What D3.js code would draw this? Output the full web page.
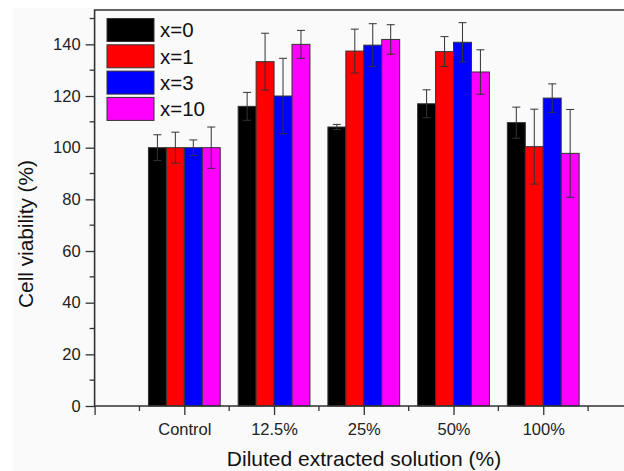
<!DOCTYPE html>
<html>
<head>
<meta charset="utf-8">
<script src="https://cdn.jsdelivr.net/npm/d3@7/dist/d3.min.js"></script>
<style>
  html, body { margin: 0; padding: 0; background: #fff; }
  svg { display: block; font-family: Arial, "Liberation Sans", sans-serif; }
</style>
</head>
<body>
<svg id="chart" width="624" height="471"></svg>
<script>
const categories = ["Control", "12.5%", "25%", "50%", "100%"];
const seriesNames = ["x=0", "x=1", "x=3", "x=10"];
const seriesColors = ["#000000", "#ff0000", "#0000ff", "#ff00ff"];
const valuesX0 = [100, 116, 108, 117, 109.7];
const valuesX1 = [100, 133.3, 137.4, 137.2, 100.4];
const valuesX3 = [100, 120, 139.7, 140.8, 119.2];
const valuesX10 = [100, 140, 141.9, 129.3, 97.8];
const errX0 = [5, 5.4, 1, 5.4, 6];
const errX1 = [6, 11, 8.5, 5.8, 14.5];
const errX3 = [3, 14.6, 8.3, 7.6, 5.5];
const errX10 = [8, 5.4, 5.7, 8.6, 17];
const yTicks = [0, 20, 40, 60, 80, 100, 120, 140];
const yMinorTicks = [10, 30, 50, 70, 90, 110, 130, 150];

(function () {
const seriesValues = [valuesX0, valuesX1, valuesX3, valuesX10];
const seriesErrors = [errX0, errX1, errX3, errX10];

const svg = d3.select("#chart");
const W = 624, H = 471;
const pLeft = 94.6, pTop = 10, pBottom = 406;

svg.append("rect").attr("x", 13).attr("y", 8).attr("width", W).attr("height", H)
  .attr("fill", "#fafafa");

const y = d3.scaleLinear().domain([0, 153.3]).range([pBottom, pTop]);
const xLin = d3.scaleLinear().domain([0, 5.9]).range([pLeft, W]);

const axisColor = "#333";

const barW = 0.2;
const data = [];
categories.forEach((c, i) => {
  seriesNames.forEach((s, j) => {
    data.push({ cat: c, pos: i + 1, s: j, v: seriesValues[j][i], e: seriesErrors[j][i] });
  });
});

const g = svg.append("g");
g.selectAll("rect.bar").data(data).enter().append("rect")
  .attr("class", "bar")
  .attr("x", d => xLin(d.pos - 0.4 + d.s * barW))
  .attr("width", d => xLin(barW) - xLin(0))
  .attr("y", d => y(d.v))
  .attr("height", d => y(0) - y(d.v))
  .attr("fill", d => seriesColors[d.s])
  .attr("stroke", "#333")
  .attr("stroke-width", 1);

const eb = g.selectAll("g.err").data(data).enter().append("g").attr("class", "err")
  .attr("stroke", "#333").attr("stroke-width", 1);
const cx = d => xLin(d.pos - 0.4 + d.s * barW + barW / 2);
eb.append("line").attr("x1", cx).attr("x2", cx)
  .attr("y1", d => y(d.v + d.e)).attr("y2", d => y(d.v - d.e));
eb.append("line").attr("x1", d => cx(d) - 4).attr("x2", d => cx(d) + 4)
  .attr("y1", d => y(d.v + d.e)).attr("y2", d => y(d.v + d.e));
eb.append("line").attr("x1", d => cx(d) - 4).attr("x2", d => cx(d) + 4)
  .attr("y1", d => y(d.v - d.e)).attr("y2", d => y(d.v - d.e));

const yAxis = d3.axisLeft(y).tickValues(yTicks).tickSize(9).tickPadding(5).tickSizeOuter(0);
const ya = svg.append("g").attr("transform", `translate(${pLeft},0)`).call(yAxis);
ya.select(".domain").remove();
ya.selectAll(".tick line").attr("stroke", axisColor).attr("stroke-width", 1.3);
ya.selectAll(".tick text").attr("font-size", 16.5).attr("fill", "#222")
  .attr("font-family", "Arial, 'Liberation Sans', sans-serif");
svg.append("g").selectAll("line").data(yMinorTicks).enter().append("line")
  .attr("x1", pLeft - 5).attr("x2", pLeft).attr("y1", d => y(d)).attr("y2", d => y(d))
  .attr("stroke", axisColor).attr("stroke-width", 1.3);

const majorX = [0, 1, 2, 3, 4, 5];
const minorX = [0.5, 1.5, 2.5, 3.5, 4.5, 5.5];
const xAxis = d3.axisBottom(xLin).tickValues(majorX)
  .tickFormat(d => d >= 1 ? categories[d - 1] : "")
  .tickSize(9).tickPadding(8).tickSizeOuter(0);
const xa = svg.append("g").attr("transform", `translate(0,${pBottom})`).call(xAxis);
xa.select(".domain").remove();
xa.selectAll(".tick line").attr("stroke", axisColor).attr("stroke-width", 1.3);
xa.selectAll(".tick text").attr("font-size", 16.5).attr("fill", "#222")
  .attr("font-family", "Arial, 'Liberation Sans', sans-serif");
svg.append("g").selectAll("line").data(minorX).enter().append("line")
  .attr("x1", d => xLin(d)).attr("x2", d => xLin(d)).attr("y1", pBottom).attr("y2", pBottom + 5)
  .attr("stroke", axisColor).attr("stroke-width", 1.3);

svg.append("path")
  .attr("d", `M${W + 2},${pTop}H${pLeft}V${pBottom}H${W + 2}`)
  .attr("fill", "none").attr("stroke", axisColor).attr("stroke-width", 1.6);

const leg = svg.append("g");
seriesNames.forEach((s, j) => {
  const yy = 18.5 + j * 26.3;
  leg.append("rect").attr("x", 107).attr("y", yy).attr("width", 47).attr("height", 23)
    .attr("fill", seriesColors[j]).attr("stroke", "#333").attr("stroke-width", 1);
  leg.append("text").attr("x", 160).attr("y", yy + 11.5).attr("dy", "0.36em")
    .attr("font-size", 20.5).attr("fill", "#111").text(s);
});

svg.append("text").attr("x", (226 + 502) / 2).attr("y", 466).attr("text-anchor", "middle")
  .attr("font-size", 21).attr("fill", "#111").text("Diluted extracted solution (%)");
svg.append("text").attr("transform", "translate(33,234) rotate(-90)").attr("text-anchor", "middle")
  .attr("font-size", 20.8).attr("fill", "#111").text("Cell viability (%)");
})();
</script>
</body>
</html>
